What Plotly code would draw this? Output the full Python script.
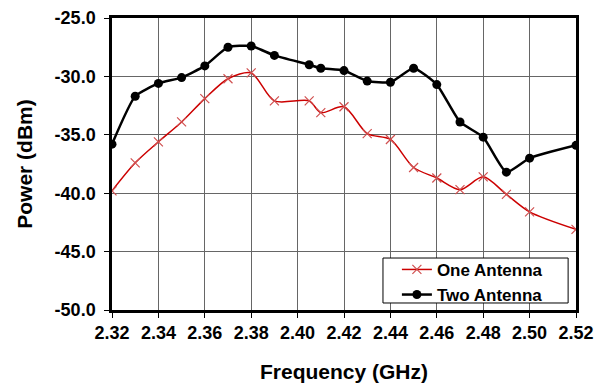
import plotly.graph_objects as go

freq_one = [2.32, 2.33, 2.34, 2.35, 2.36, 2.37, 2.38, 2.39, 2.405, 2.41, 2.42, 2.43, 2.44, 2.45, 2.46, 2.47, 2.48, 2.49, 2.50, 2.52]
power_one = [-39.8, -37.4, -35.6, -33.9, -31.9, -30.2, -29.7, -32.1, -32.1, -33.1, -32.6, -34.9, -35.4, -37.8, -38.7, -39.7, -38.6, -40.1, -41.6, -43.1]
freq_two = [2.32, 2.33, 2.34, 2.35, 2.36, 2.37, 2.38, 2.39, 2.405, 2.41, 2.42, 2.43, 2.44, 2.45, 2.46, 2.47, 2.48, 2.49, 2.50, 2.52]
power_two = [-35.8, -31.7, -30.6, -30.1, -29.1, -27.5, -27.4, -28.2, -29.0, -29.3, -29.5, -30.4, -30.5, -29.3, -30.7, -33.9, -35.2, -38.2, -37.0, -35.9]

x_ticks = [2.32, 2.34, 2.36, 2.38, 2.40, 2.42, 2.44, 2.46, 2.48, 2.50, 2.52]
x_labels = ["2.32", "2.34", "2.36", "2.38", "2.40", "2.42", "2.44", "2.46", "2.48", "2.50", "2.52"]
y_ticks = [-50, -45, -40, -35, -30, -25]
y_labels = ["-50.0", "-45.0", "-40.0", "-35.0", "-30.0", "-25.0"]

font_family = "Liberation Sans, Arial, sans-serif"

fig = go.Figure()
fig.add_trace(go.Scatter(
    x=freq_one, y=power_one, name="<b>One Antenna</b>", mode="lines+markers",
    line=dict(color="#CC0000", width=1.5, shape="spline", smoothing=0.8),
    marker=dict(symbol="x-thin", size=9, color="#D05050", line=dict(color="#D05050", width=1.2)),
))
fig.add_trace(go.Scatter(
    x=freq_two, y=power_two, name="<b>Two Antenna</b>", mode="lines+markers",
    line=dict(color="black", width=2.5, shape="spline", smoothing=0.5),
    marker=dict(symbol="circle", size=9, color="black"),
))

# legend frame
fig.add_shape(type="rect", xref="paper", yref="paper",
              x0=0.584, x1=0.983, y0=0.024, y1=0.178,
              line=dict(color="black", width=1), fillcolor="white", layer="above")

fig.update_layout(
    width=602, height=387,
    margin=dict(l=112, r=26, t=18, b=77),
    paper_bgcolor="white", plot_bgcolor="white",
    font=dict(family=font_family, size=17, color="black"),
    showlegend=True,
    legend=dict(
        x=0.614, y=0.199, xanchor="left", yanchor="top",
        bgcolor="rgba(0,0,0,0)", borderwidth=0,
        font=dict(size=17, family=font_family, color="black"),
        itemwidth=30, tracegroupgap=0,
    ),
    xaxis=dict(
        range=[2.32, 2.52], tickvals=x_ticks, ticktext=["<b>%s</b>" % t for t in x_labels],
        showgrid=True, gridcolor="#666666", gridwidth=1,
        showline=True, linecolor="black", linewidth=2.5, mirror=True,
        ticks="outside", ticklen=5, tickcolor="black",
        tickfont=dict(size=18, family=font_family),
        title=dict(text="<b>Frequency (GHz)</b>", font=dict(size=21, family=font_family), standoff=22),
        zeroline=False, automargin=False,
    ),
    yaxis=dict(
        range=[-50, -25], tickvals=y_ticks, ticktext=["<b>%s</b>" % t for t in y_labels],
        showgrid=True, gridcolor="#666666", gridwidth=1,
        showline=True, linecolor="black", linewidth=2.5, mirror=True,
        ticks="outside", ticklen=5, tickcolor="black", ticklabelstandoff=5,
        tickfont=dict(size=18, family=font_family),
        title=dict(text="<b>Power (dBm)</b>", font=dict(size=21, family=font_family), standoff=17),
        zeroline=False, automargin=False,
    ),
)

fig.write_html("out.html")
